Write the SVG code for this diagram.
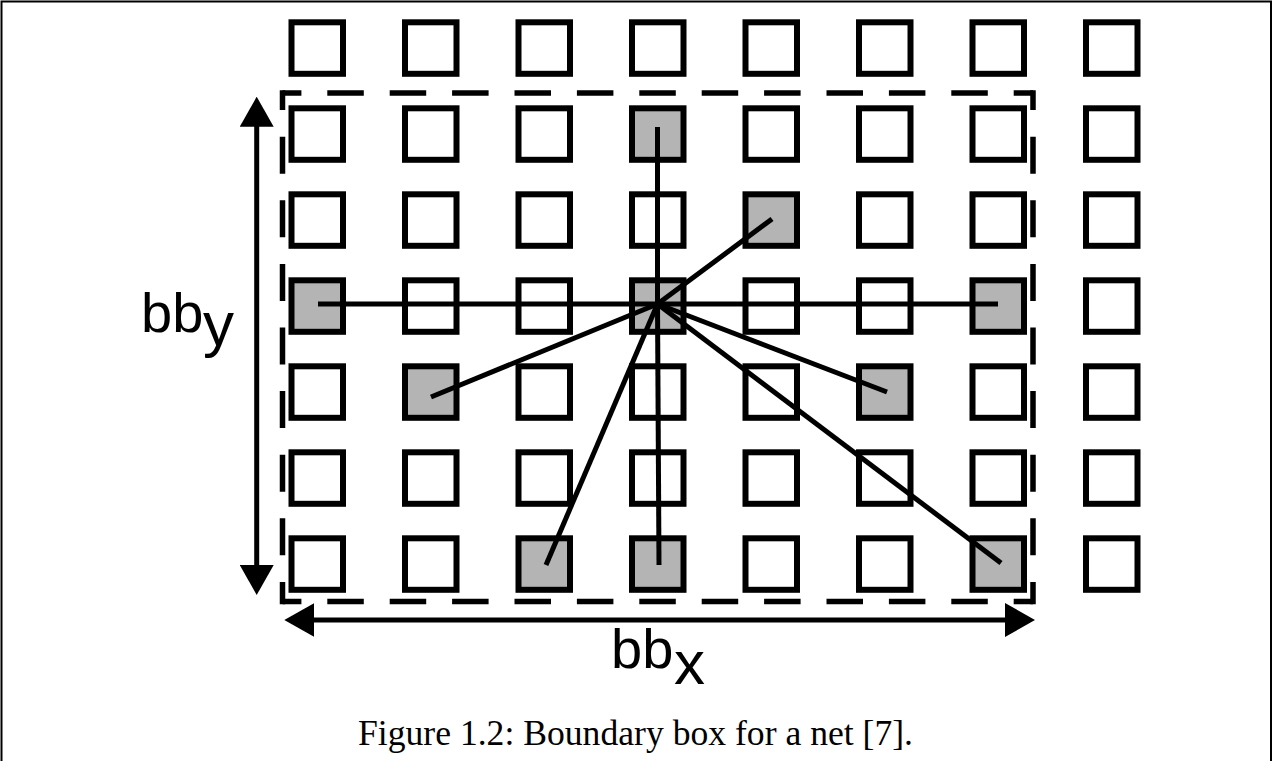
<svg xmlns="http://www.w3.org/2000/svg" width="1273" height="761" viewBox="0 0 1273 761">
  <defs>
    <style>
      .cell { fill: #ffffff; stroke: #000000; stroke-width: 6; }
      .pin { fill: #b4b4b4; stroke: #000000; stroke-width: 6; }
      .wire { stroke: #000000; stroke-width: 5; fill: none; }
      .bbox { stroke: #000000; stroke-width: 5.5; fill: none; }
      .dim { stroke: #000000; stroke-width: 5; fill: none; }
      .lbl { font-family: "Liberation Sans", Arial, sans-serif; fill: #000000; }
      .cap { font-family: "Liberation Serif", "Times New Roman", serif; font-size: 35px; fill: #000000; }
    </style>
    <marker id="head" viewBox="0 0 30 34" refX="20" refY="17" markerWidth="30" markerHeight="34" markerUnits="userSpaceOnUse" orient="auto-start-reverse">
      <path d="M0,0 L30,17 L0,34 Z" fill="#000000"/>
    </marker>
  </defs>

  <rect width="1273" height="761" fill="#ffffff"/>
  <!-- figure frame -->
  <path d="M1.5,761 V1.5 H1271 V761" fill="none" stroke="#000000" stroke-width="2"/>

  <!-- grid of cells: rows r0..r6, columns c0..c7 -->
  <g id="r0c0"><rect class="cell" x="291.5" y="22.3" width="51.5" height="51.5"/></g>
  <g id="r0c1"><rect class="cell" x="405" y="22.3" width="51.5" height="51.5"/></g>
  <g id="r0c2"><rect class="cell" x="518.5" y="22.3" width="51.5" height="51.5"/></g>
  <g id="r0c3"><rect class="cell" x="632" y="22.3" width="51.5" height="51.5"/></g>
  <g id="r0c4"><rect class="cell" x="745.5" y="22.3" width="51.5" height="51.5"/></g>
  <g id="r0c5"><rect class="cell" x="859" y="22.3" width="51.5" height="51.5"/></g>
  <g id="r0c6"><rect class="cell" x="972.5" y="22.3" width="51.5" height="51.5"/></g>
  <g id="r0c7"><rect class="cell" x="1086" y="22.3" width="51.5" height="51.5"/></g>

  <g id="r1c0"><rect class="cell" x="291.5" y="108.3" width="51.5" height="51.5"/></g>
  <g id="r1c1"><rect class="cell" x="405" y="108.3" width="51.5" height="51.5"/></g>
  <g id="r1c2"><rect class="cell" x="518.5" y="108.3" width="51.5" height="51.5"/></g>
  <g id="r1c3"><rect class="pin" x="632" y="108.3" width="51.5" height="51.5"/></g>
  <g id="r1c4"><rect class="cell" x="745.5" y="108.3" width="51.5" height="51.5"/></g>
  <g id="r1c5"><rect class="cell" x="859" y="108.3" width="51.5" height="51.5"/></g>
  <g id="r1c6"><rect class="cell" x="972.5" y="108.3" width="51.5" height="51.5"/></g>
  <g id="r1c7"><rect class="cell" x="1086" y="108.3" width="51.5" height="51.5"/></g>

  <g id="r2c0"><rect class="cell" x="291.5" y="194.3" width="51.5" height="51.5"/></g>
  <g id="r2c1"><rect class="cell" x="405" y="194.3" width="51.5" height="51.5"/></g>
  <g id="r2c2"><rect class="cell" x="518.5" y="194.3" width="51.5" height="51.5"/></g>
  <g id="r2c3"><rect class="cell" x="632" y="194.3" width="51.5" height="51.5"/></g>
  <g id="r2c4"><rect class="pin" x="745.5" y="194.3" width="51.5" height="51.5"/></g>
  <g id="r2c5"><rect class="cell" x="859" y="194.3" width="51.5" height="51.5"/></g>
  <g id="r2c6"><rect class="cell" x="972.5" y="194.3" width="51.5" height="51.5"/></g>
  <g id="r2c7"><rect class="cell" x="1086" y="194.3" width="51.5" height="51.5"/></g>

  <g id="r3c0"><rect class="pin" x="291.5" y="280.3" width="51.5" height="51.5"/></g>
  <g id="r3c1"><rect class="cell" x="405" y="280.3" width="51.5" height="51.5"/></g>
  <g id="r3c2"><rect class="cell" x="518.5" y="280.3" width="51.5" height="51.5"/></g>
  <g id="r3c3"><rect class="pin" x="632" y="280.3" width="51.5" height="51.5"/></g>
  <g id="r3c4"><rect class="cell" x="745.5" y="280.3" width="51.5" height="51.5"/></g>
  <g id="r3c5"><rect class="cell" x="859" y="280.3" width="51.5" height="51.5"/></g>
  <g id="r3c6"><rect class="pin" x="972.5" y="280.3" width="51.5" height="51.5"/></g>
  <g id="r3c7"><rect class="cell" x="1086" y="280.3" width="51.5" height="51.5"/></g>

  <g id="r4c0"><rect class="cell" x="291.5" y="366.3" width="51.5" height="51.5"/></g>
  <g id="r4c1"><rect class="pin" x="405" y="366.3" width="51.5" height="51.5"/></g>
  <g id="r4c2"><rect class="cell" x="518.5" y="366.3" width="51.5" height="51.5"/></g>
  <g id="r4c3"><rect class="cell" x="632" y="366.3" width="51.5" height="51.5"/></g>
  <g id="r4c4"><rect class="cell" x="745.5" y="366.3" width="51.5" height="51.5"/></g>
  <g id="r4c5"><rect class="pin" x="859" y="366.3" width="51.5" height="51.5"/></g>
  <g id="r4c6"><rect class="cell" x="972.5" y="366.3" width="51.5" height="51.5"/></g>
  <g id="r4c7"><rect class="cell" x="1086" y="366.3" width="51.5" height="51.5"/></g>

  <g id="r5c0"><rect class="cell" x="291.5" y="452.3" width="51.5" height="51.5"/></g>
  <g id="r5c1"><rect class="cell" x="405" y="452.3" width="51.5" height="51.5"/></g>
  <g id="r5c2"><rect class="cell" x="518.5" y="452.3" width="51.5" height="51.5"/></g>
  <g id="r5c3"><rect class="cell" x="632" y="452.3" width="51.5" height="51.5"/></g>
  <g id="r5c4"><rect class="cell" x="745.5" y="452.3" width="51.5" height="51.5"/></g>
  <g id="r5c5"><rect class="cell" x="859" y="452.3" width="51.5" height="51.5"/></g>
  <g id="r5c6"><rect class="cell" x="972.5" y="452.3" width="51.5" height="51.5"/></g>
  <g id="r5c7"><rect class="cell" x="1086" y="452.3" width="51.5" height="51.5"/></g>

  <g id="r6c0"><rect class="cell" x="291.5" y="538.3" width="51.5" height="51.5"/></g>
  <g id="r6c1"><rect class="cell" x="405" y="538.3" width="51.5" height="51.5"/></g>
  <g id="r6c2"><rect class="pin" x="518.5" y="538.3" width="51.5" height="51.5"/></g>
  <g id="r6c3"><rect class="pin" x="632" y="538.3" width="51.5" height="51.5"/></g>
  <g id="r6c4"><rect class="cell" x="745.5" y="538.3" width="51.5" height="51.5"/></g>
  <g id="r6c5"><rect class="cell" x="859" y="538.3" width="51.5" height="51.5"/></g>
  <g id="r6c6"><rect class="pin" x="972.5" y="538.3" width="51.5" height="51.5"/></g>
  <g id="r6c7"><rect class="cell" x="1086" y="538.3" width="51.5" height="51.5"/></g>

  <!-- net wires from the driver cell to each sink -->
  <g id="connectors">
    <line class="wire" x1="657.5" y1="304" x2="657.5" y2="127"/>
    <line class="wire" x1="657.5" y1="304" x2="772" y2="219"/>
    <line class="wire" x1="657.5" y1="304" x2="318" y2="304"/>
    <line class="wire" x1="657.5" y1="304" x2="998" y2="304"/>
    <line class="wire" x1="657.5" y1="304" x2="431" y2="397"/>
    <line class="wire" x1="657.5" y1="304" x2="887" y2="392"/>
    <line class="wire" x1="657.5" y1="304" x2="546" y2="565"/>
    <line class="wire" x1="657.5" y1="304" x2="659" y2="565"/>
    <line class="wire" x1="657.5" y1="304" x2="1001" y2="563"/>
  </g>

  <!-- dashed bounding box, each side phased so the corners close -->
  <g id="bounding-box">
    <line class="bbox" x1="282.5" y1="93" x2="1033" y2="93" stroke-dasharray="36.5 25.9" stroke-dashoffset="17.6"/>
    <line class="bbox" x1="282.5" y1="601.5" x2="1033" y2="601.5" stroke-dasharray="36.5 25.9" stroke-dashoffset="17.6"/>
    <line class="bbox" x1="282.5" y1="90.3" x2="282.5" y2="604.2" stroke-dasharray="37 26.6" stroke-dashoffset="17.2"/>
    <line class="bbox" x1="1033" y1="90.3" x2="1033" y2="604.2" stroke-dasharray="37 26.6" stroke-dashoffset="17.2"/>
  </g>

  <!-- dimension arrows -->
  <g id="dim-y">
    <line class="dim" x1="256.7" y1="106.7" x2="256.7" y2="585" marker-start="url(#head)" marker-end="url(#head)"/>
  </g>
  <g id="dim-x">
    <line class="dim" x1="294.3" y1="620" x2="1025" y2="620" marker-start="url(#head)" marker-end="url(#head)"/>
  </g>

  <!-- labels -->
  <g id="label-bby">
    <text class="lbl" x="141" y="331.7" font-size="56">bb</text>
    <text class="lbl" x="203" y="345" font-size="62">y</text>
  </g>
  <g id="label-bbx">
    <text class="lbl" x="611" y="668" font-size="56">bb</text>
    <text class="lbl" x="674" y="684" font-size="62">x</text>
  </g>

  <g id="caption">
    <text class="cap" x="358" y="745" textLength="555" lengthAdjust="spacingAndGlyphs">Figure 1.2: Boundary box for a net [7].</text>
  </g>
</svg>
